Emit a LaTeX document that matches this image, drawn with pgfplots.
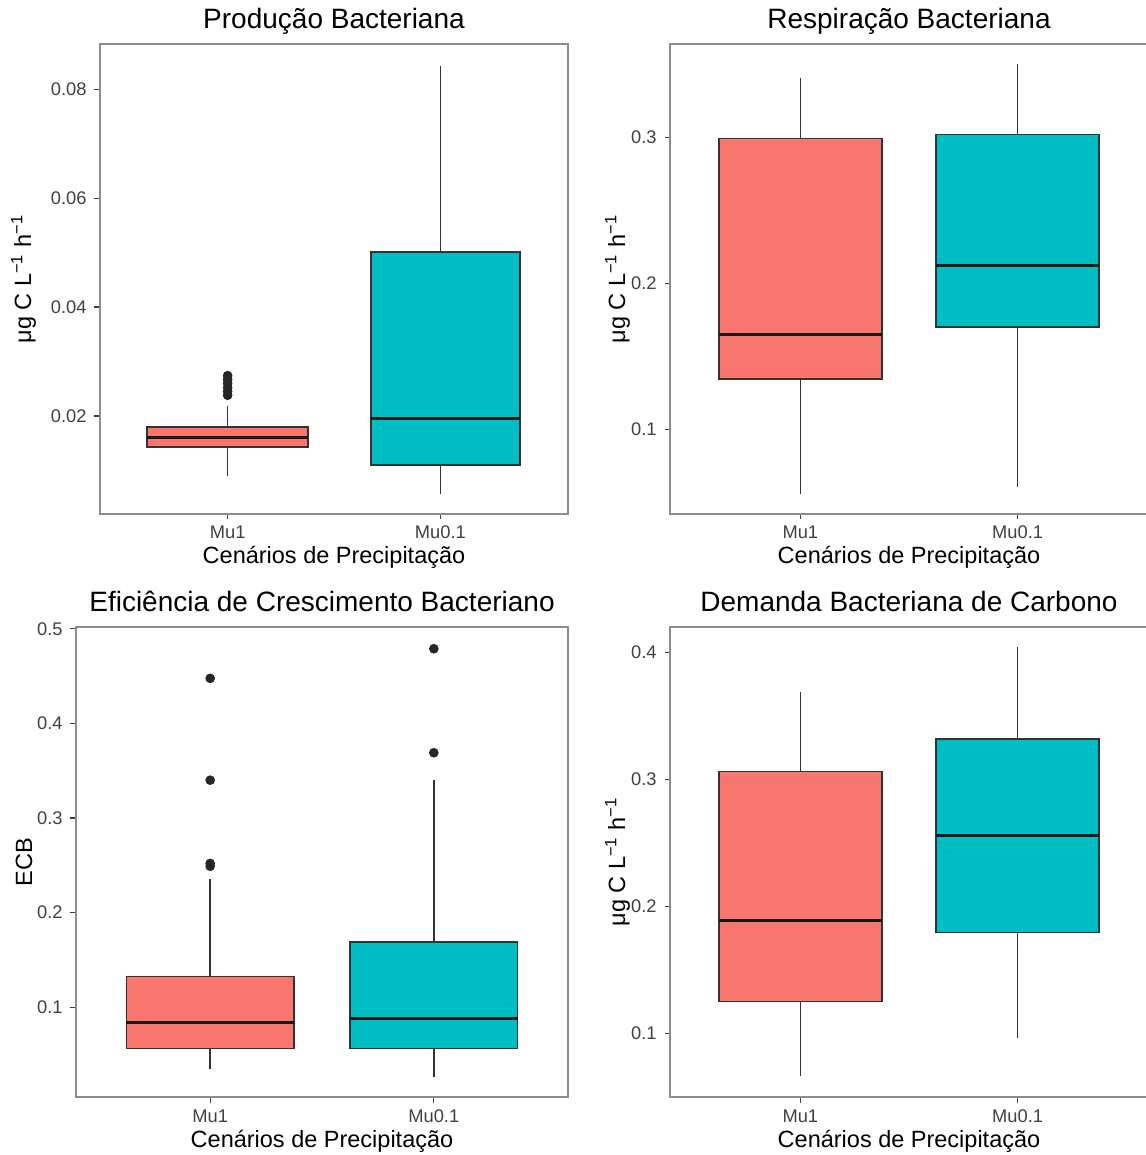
\documentclass[border=0pt]{standalone}
\usepackage{fontspec}
\setmainfont{Liberation Sans}
\usepackage{pgfplots}
\pgfplotsset{compat=1.18}
\definecolor{cred}{HTML}{F8766D}
\definecolor{cteal}{HTML}{00BFC4}
\definecolor{framecol}{HTML}{8C8C8C}
\definecolor{boxline}{HTML}{333333}
\pgfplotsset{
  every axis title shift=0pt,
  ggbox/.style={
    scale only axis, height=235pt,
    xmin=0.4, xmax=2.6, xtick={1,2}, xticklabels={Mu1,Mu0.1},
    scaled y ticks=false,
    axis line style={draw=framecol, line width=0.6pt},
    tick align=outside, tick pos=left,
    major tick length=2.75pt,
    every tick/.style={black!75, line width=0.6pt},
    tick label style={font=\fontsize{9.15}{10}\selectfont, text=black!75, inner sep=0pt},
    xticklabel style={anchor=base, yshift=-9.75pt},
    yticklabel style={anchor=east, xshift=-3.75pt},
    title style={font=\fontsize{14}{16}\selectfont, at={(axis description cs:0.5,1)}, anchor=base, yshift=7.5pt},
    label style={font=\fontsize{11.75}{13}\selectfont},
    xlabel={Cenários de Precipitação},
    xlabel style={at={(axis description cs:0.5,0)}, anchor=base, yshift=-25pt, inner sep=0pt},
  },
  boxr/.style={fill=cred, draw=boxline, line width=0.75pt},
  boxt/.style={fill=cteal, draw=boxline, line width=0.75pt},
  whisk/.style={draw=boxline, line width=0.7pt},
  med/.style={draw=black!90, line width=1.5pt},
  outl/.style={only marks, mark=*, mark size=2.2pt, mark options={fill=black!85, draw=black!85}},
}
\newcommand{\ugl}{μg C L\textsuperscript{−1} h\textsuperscript{−1}}
\begin{document}
\begin{tikzpicture}
\path[use as bounding box] (0,0) rectangle (572.5pt,577.5pt);

% Panel 1: Producao Bacteriana
\begin{axis}[ggbox, at={(50pt,320.5pt)}, anchor=south west, width=234pt,
  ymin=0.0020, ymax=0.0883,
  ytick={0.02,0.04,0.06,0.08}, yticklabels={0.02,0.04,0.06,0.08},
  title={Produção Bacteriana},
  ylabel={\ugl},
  ylabel style={at={(axis description cs:-0.1474,0.5)}, anchor=base, rotate=0, inner sep=0pt}]
% Mu1: lw 0.0090, lq 0.0143, med 0.0161, uq 0.0180, uw 0.0219
\addplot[whisk] coordinates {(1,0.0180) (1,0.0219)};
\addplot[whisk] coordinates {(1,0.0143) (1,0.0090)};
\addplot[boxr] coordinates {(0.6215,0.0143) (1.3785,0.0143) (1.3785,0.0180) (0.6215,0.0180)} -- cycle;
\addplot[med] coordinates {(0.6215,0.0161) (1.3785,0.0161)};
\addplot[outl] coordinates {(1,0.0238) (1,0.0245) (1,0.0252) (1,0.0260) (1,0.0267) (1,0.0274)};
% Mu0.1: lw 0.0057, lq 0.0110, med 0.0195, uq 0.0501, uw 0.0842
\addplot[whisk] coordinates {(2,0.0501) (2,0.0842)};
\addplot[whisk] coordinates {(2,0.0110) (2,0.0057)};
\addplot[boxt] coordinates {(1.675,0.0110) (2.375,0.0110) (2.375,0.0501) (1.675,0.0501)} -- cycle;
\addplot[med] coordinates {(1.675,0.0195) (2.375,0.0195)};
\end{axis}

% Panel 2: Respiracao Bacteriana
\begin{axis}[ggbox, at={(335pt,320.5pt)}, anchor=south west, width=239pt,
  ymin=0.0421, ymax=0.3639,
  ytick={0.1,0.2,0.3}, yticklabels={0.1,0.2,0.3},
  title={Respiração Bacteriana},
  ylabel={\ugl},
  ylabel style={at={(axis description cs:-0.0941,0.5)}, anchor=base, rotate=0, inner sep=0pt}]
% Mu1: lw 0.0555, lq 0.1346, med 0.165, uq 0.2993, uw 0.3406
\addplot[whisk] coordinates {(1,0.2993) (1,0.3406)};
\addplot[whisk] coordinates {(1,0.1346) (1,0.0555)};
\addplot[boxr] coordinates {(0.625,0.1346) (1.375,0.1346) (1.375,0.2993) (0.625,0.2993)} -- cycle;
\addplot[med] coordinates {(0.625,0.165) (1.375,0.165)};
% Mu0.1: lw 0.0606, lq 0.170, med 0.2123, uq 0.302, uw 0.350
\addplot[whisk] coordinates {(2,0.302) (2,0.350)};
\addplot[whisk] coordinates {(2,0.170) (2,0.0606)};
\addplot[boxt] coordinates {(1.625,0.170) (2.375,0.170) (2.375,0.302) (1.625,0.302)} -- cycle;
\addplot[med] coordinates {(1.625,0.2123) (2.375,0.2123)};
\end{axis}

% Panel 3: Eficiencia de Crescimento Bacteriano
\begin{axis}[ggbox, at={(38pt,29pt)}, anchor=south west, width=246pt,
  ymin=0.005, ymax=0.502,
  ytick={0.1,0.2,0.3,0.4,0.5}, yticklabels={0.1,0.2,0.3,0.4,0.5},
  title={Eficiência de Crescimento Bacteriano},
  ylabel={ECB},
  ylabel style={at={(axis description cs:-0.0894,0.5)}, anchor=base, rotate=0, inner sep=0pt}]
% Mu1: lw 0.0341, lq 0.0562, med 0.0837, uq 0.1322, uw 0.2357
\addplot[whisk] coordinates {(1,0.1322) (1,0.2357)};
\addplot[whisk] coordinates {(1,0.0562) (1,0.0341)};
\addplot[boxr] coordinates {(0.625,0.0562) (1.375,0.0562) (1.375,0.1322) (0.625,0.1322)} -- cycle;
\addplot[med] coordinates {(0.625,0.0837) (1.375,0.0837)};
\addplot[outl] coordinates {(1,0.4477) (1,0.340) (1,0.252) (1,0.249)};
% Mu0.1: lw 0.0264, lq 0.0562, med 0.0876, uq 0.169, uw 0.340
\addplot[whisk] coordinates {(2,0.169) (2,0.340)};
\addplot[whisk] coordinates {(2,0.0562) (2,0.0264)};
\addplot[boxt] coordinates {(1.625,0.0562) (2.375,0.0562) (2.375,0.169) (1.625,0.169)} -- cycle;
\addplot[med] coordinates {(1.625,0.0876) (2.375,0.0876)};
\addplot[outl] coordinates {(2,0.479) (2,0.369)};
\end{axis}

% Panel 4: Demanda Bacteriana de Carbono
\begin{axis}[ggbox, at={(335pt,29pt)}, anchor=south west, width=239pt,
  ymin=0.050, ymax=0.420,
  ytick={0.1,0.2,0.3,0.4}, yticklabels={0.1,0.2,0.3,0.4},
  title={Demanda Bacteriana de Carbono},
  ylabel={\ugl},
  ylabel style={at={(axis description cs:-0.0941,0.5)}, anchor=base, rotate=0, inner sep=0pt}]
% Mu1: lw 0.0668, lq 0.125, med 0.189, uq 0.3064, uw 0.369
\addplot[whisk] coordinates {(1,0.3064) (1,0.369)};
\addplot[whisk] coordinates {(1,0.125) (1,0.0668)};
\addplot[boxr] coordinates {(0.625,0.125) (1.375,0.125) (1.375,0.3064) (0.625,0.3064)} -- cycle;
\addplot[med] coordinates {(0.625,0.189) (1.375,0.189)};
% Mu0.1: lw 0.0962, lq 0.1795, med 0.2556, uq 0.332, uw 0.4046
\addplot[whisk] coordinates {(2,0.332) (2,0.4046)};
\addplot[whisk] coordinates {(2,0.1795) (2,0.0962)};
\addplot[boxt] coordinates {(1.625,0.1795) (2.375,0.1795) (2.375,0.332) (1.625,0.332)} -- cycle;
\addplot[med] coordinates {(1.625,0.2556) (2.375,0.2556)};
\end{axis}
\end{tikzpicture}
\end{document}
